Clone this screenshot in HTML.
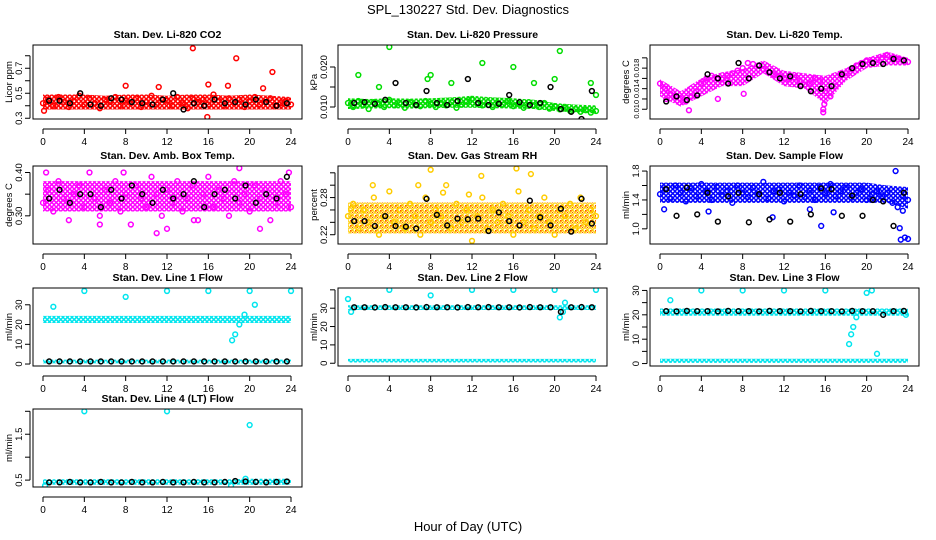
<!DOCTYPE html>
<html><head><meta charset="utf-8"><style>
html,body{margin:0;padding:0;background:#fff}
svg{display:block;font-family:"Liberation Sans",sans-serif}
</style></head><body>
<svg id="chart" width="936" height="540" viewBox="0 0 936 540" xmlns="http://www.w3.org/2000/svg">
<text x="468" y="14" font-size="13" text-anchor="middle">SPL_130227  Std. Dev. Diagnostics</text>
<text x="468" y="531" font-size="13" text-anchor="middle">Hour of Day (UTC)</text>
</svg>
<script>
const colHours=[0,0.5,1,1.5,2,2.5,3,3.5,4,4.5,5,5.5,6,6.5,7,7.5,8,8.5,9,9.5,10,10.5,11,11.5,12,12.5,13,13.5,14,14.5,15,15.5,16,16.5,17,17.5,18,18.5,19,19.5,20,20.5,21,21.5,22,22.5,23,23.5,24];
const blkHours=[0.6,1.6,2.6,3.6,4.6,5.6,6.6,7.6,8.6,9.6,10.6,11.6,12.6,13.6,14.6,15.6,16.6,17.6,18.6,19.6,20.6,21.6,22.6,23.6];
const bandHours=[0,2,4,6,8,10,12,14,16,18,20,22,24];
const xTicks=[0,4,8,12,16,20,24];

const co2Col=[0.42,0.45,0.40,0.47,0.43,0.39,0.44,0.48,0.41,0.46,0.42,0.38,0.45,0.43,0.47,0.40,0.44,0.42,0.46,0.39,0.43,0.48,0.41,0.45,0.44,0.40,0.47,0.42,0.38,0.46,0.43,0.45,0.41,0.49,0.44,0.40,0.46,0.42,0.45,0.39,0.44,0.47,0.41,0.43,0.46,0.40,0.42,0.44,0.41];
const co2Blk=[0.44,0.44,0.42,0.50,0.41,0.40,0.46,0.45,0.43,0.42,0.41,0.45,0.50,0.37,0.42,0.40,0.45,0.42,0.43,0.41,0.45,0.43,0.40,0.42];
const co2Lo=[0.37,0.37,0.37,0.37,0.37,0.37,0.37,0.37,0.37,0.37,0.37,0.37,0.37];
const co2Hi=[0.49,0.49,0.49,0.48,0.49,0.49,0.48,0.49,0.49,0.48,0.49,0.48,0.47];
const co2OutX=[14.5,18.7,22.2,15.9,16,8,17.9,21.3,0.1,11.2];
const co2OutY=[0.86,0.78,0.67,0.31,0.57,0.56,0.56,0.54,0.36,0.55];

const presCol=[0.0110,0.0100,0.0115,0.0105,0.0095,0.0112,0.0108,0.0100,0.0118,0.0104,0.0110,0.0098,0.0112,0.0106,0.0102,0.0115,0.0108,0.0100,0.0110,0.0104,0.0112,0.0098,0.0106,0.0114,0.0120,0.0108,0.0104,0.0112,0.0100,0.0110,0.0106,0.0115,0.0102,0.0108,0.0098,0.0112,0.0104,0.0100,0.0110,0.0096,0.0102,0.0094,0.0098,0.0090,0.0095,0.0088,0.0092,0.0086,0.0090];
const presBlk=[0.0110,0.0112,0.0108,0.0118,0.0160,0.0110,0.0105,0.0140,0.0110,0.0105,0.0115,0.0170,0.0110,0.0105,0.0108,0.0130,0.0112,0.0105,0.0110,0.0150,0.0095,0.0088,0.0070,0.0140];
const presLo=[0.0095,0.0096,0.0097,0.0096,0.0097,0.0098,0.0098,0.0097,0.0096,0.0095,0.0090,0.0086,0.0084];
const presHi=[0.0122,0.0120,0.0122,0.0121,0.0122,0.0124,0.0128,0.0124,0.0122,0.0118,0.0110,0.0106,0.0104];
const presOutX=[1,3,4,7.7,8,10,12,13,16,18,20,20.5,23.5,24];
const presOutY=[0.018,0.015,0.025,0.017,0.018,0.016,0.027,0.021,0.020,0.016,0.017,0.024,0.016,0.013];

const tempCol=[0.0150,0.0140,0.0130,0.0125,0.0120,0.0115,0.0125,0.0135,0.0150,0.0160,0.0165,0.0160,0.0158,0.0165,0.0170,0.0175,0.0180,0.0190,0.0188,0.0185,0.0178,0.0172,0.0168,0.0165,0.0160,0.0158,0.0162,0.0155,0.0148,0.0150,0.0160,0.0155,0.0135,0.0125,0.0145,0.0165,0.0170,0.0178,0.0185,0.0190,0.0195,0.0192,0.0196,0.0200,0.0205,0.0200,0.0198,0.0196,0.0192];
const tempBlk=[0.0115,0.0125,0.0118,0.0127,0.0168,0.0160,0.0150,0.0190,0.0160,0.0185,0.0172,0.0160,0.0164,0.0145,0.0135,0.0140,0.0145,0.0168,0.0180,0.0188,0.0190,0.0188,0.0198,0.0195];
const tempLo=[0.0125,0.0105,0.0125,0.0145,0.0145,0.0170,0.0145,0.0140,0.0110,0.0155,0.0180,0.0185,0.0185];
const tempHi=[0.0158,0.0135,0.0160,0.0172,0.0178,0.0195,0.0175,0.0170,0.0165,0.0180,0.0200,0.0212,0.0200];
const tempOutX=[15.8,15.8,15.9,2.8,0.6,5.6,8.1];
const tempOutY=[0.0100,0.0094,0.0110,0.0098,0.0120,0.0120,0.0130];

const ambCol=[0.33,0.36,0.31,0.38,0.34,0.29,0.35,0.37,0.32,0.40,0.34,0.30,0.36,0.33,0.38,0.31,0.35,0.28,0.37,0.34,0.32,0.39,0.35,0.30,0.36,0.33,0.38,0.31,0.34,0.37,0.29,0.35,0.39,0.32,0.36,0.34,0.30,0.38,0.33,0.35,0.31,0.37,0.34,0.36,0.29,0.33,0.38,0.35,0.32];
const ambBlk=[0.34,0.36,0.33,0.35,0.35,0.32,0.36,0.34,0.37,0.35,0.33,0.36,0.34,0.35,0.38,0.32,0.35,0.36,0.34,0.37,0.33,0.35,0.34,0.39];
const ambLo=[0.31,0.31,0.31,0.31,0.31,0.31,0.31,0.31,0.31,0.31,0.31,0.31,0.31];
const ambHi=[0.38,0.38,0.38,0.38,0.38,0.38,0.38,0.38,0.38,0.38,0.38,0.38,0.38];
const ambOutX=[0.3,7.8,12,19,23.8,11,5.5,14.6,21];
const ambOutY=[0.40,0.40,0.27,0.41,0.40,0.26,0.28,0.29,0.27];

const rhCol=[0.25,0.27,0.23,0.26,0.24,0.28,0.22,0.25,0.29,0.24,0.26,0.23,0.27,0.25,0.22,0.28,0.24,0.26,0.25,0.30,0.23,0.27,0.24,0.26,0.21,0.25,0.28,0.23,0.26,0.24,0.27,0.25,0.22,0.29,0.24,0.26,0.23,0.25,0.28,0.24,0.22,0.26,0.25,0.27,0.23,0.28,0.24,0.26,0.25];
const rhBlk=[0.242,0.242,0.234,0.250,0.234,0.233,0.230,0.278,0.252,0.235,0.246,0.245,0.246,0.226,0.256,0.242,0.235,0.275,0.248,0.235,0.262,0.225,0.278,0.238];
const rhLo=[0.222,0.222,0.222,0.222,0.222,0.222,0.222,0.222,0.222,0.222,0.222,0.222,0.222];
const rhHi=[0.272,0.272,0.272,0.272,0.272,0.272,0.272,0.272,0.272,0.272,0.272,0.272,0.272];
const rhOutX=[8,9.2,12.9,16.3,17.7,6.8,2.4,0.3,11.7];
const rhOutY=[0.325,0.288,0.315,0.327,0.318,0.300,0.300,0.262,0.285];

const flowCol=[1.48,1.55,1.42,1.60,1.50,1.38,1.56,1.45,1.62,1.52,1.40,1.58,1.47,1.53,1.36,1.60,1.50,1.44,1.57,1.48,1.65,1.42,1.52,1.55,1.38,1.50,1.46,1.60,1.44,1.53,1.40,1.58,1.49,1.62,1.45,1.52,1.57,1.43,1.50,1.55,1.40,1.48,1.52,1.45,1.50,1.36,1.30,1.45,1.40];
const flowBlk=[1.55,1.18,1.57,1.20,1.50,1.10,1.45,1.50,1.09,1.48,1.13,1.50,1.10,1.48,1.20,1.56,1.55,1.18,1.46,1.18,1.40,1.38,1.04,1.50];
const flowLo=[1.36,1.36,1.36,1.36,1.36,1.36,1.36,1.36,1.36,1.36,1.36,1.36,1.28];
const flowHi=[1.64,1.64,1.64,1.64,1.64,1.64,1.64,1.64,1.64,1.64,1.64,1.60,1.58];
const flowOutX=[0.4,4.7,10.9,15.6,16.8,22.8,23.2,23.3,23.7,24,23.5,14.5];
const flowOutY=[1.27,1.24,1.16,1.04,1.23,1.80,1.01,0.85,0.88,0.86,1.25,1.27];

const l1Blk=[1.3,1.3,1.3,1.3,1.3,1.3,1.3,1.3,1.3,1.3,1.3,1.3,1.3,1.3,1.3,1.3,1.3,1.3,1.3,1.3,1.3,1.3,1.3,1.3];
const l1Lo=[20.8,20.8,20.8,20.8,20.8,20.8,20.8,20.8,20.8,20.8,20.8,20.8,20.8];
const l1Hi=[24.4,24.4,24.4,24.4,24.4,24.4,24.4,24.4,24.4,24.4,24.4,24.4,24.4];
const l1Lo2=[0.3,0.3,0.3,0.3,0.3,0.3,0.3,0.3,0.3,0.3,0.3,0.3,0.3];
const l1Hi2=[2.2,2.2,2.2,2.2,2.2,2.2,2.2,2.2,2.2,2.2,2.2,2.2,2.2];
const l1OutX=[1,4,8,12,16,18.3,18.6,19,19.5,20,20.5,24];
const l1OutY=[29,37,34,37,37,12,15,20,25,37,30,37];

const l2Blk=[30.5,30.5,30.4,30.6,30.5,30.5,30.4,30.6,30.5,30.5,30.4,30.6,30.5,30.6,30.5,30.5,30.4,30.6,30.5,30.5,28,30.5,30.6,30.5];
const l2Lo=[29,29,29,29,29,29,29,29,29,29,29,29,29];
const l2Hi=[31.6,31.6,31.6,31.6,31.6,31.6,31.6,31.6,31.6,31.6,31.6,31.6,31.6];
const l2Lo2=[0.4,0.4,0.4,0.4,0.4,0.4,0.4,0.4,0.4,0.4,0.4,0.4,0.4];
const l2Hi2=[2.4,2.4,2.4,2.4,2.4,2.4,2.4,2.4,2.4,2.4,2.4,2.4,2.4];
const l2OutX=[0,4,8,12,16,20,20.5,21,24,20.8,0.3];
const l2OutY=[35,40,37,40,40,40,25,33,40,28,28];

const l3Blk=[21.5,21.4,21.6,21.5,21.5,21.4,21.6,21.5,21.5,21.4,21.6,21.5,21.5,21.4,21.6,21.5,21.5,21.4,21.6,21.5,21.5,20,21.5,21.6];
const l3Lo=[19.6,19.6,19.6,19.6,19.6,19.6,19.6,19.6,19.6,19.6,19.6,19.6,19.6];
const l3Hi=[22.6,22.6,22.6,22.6,22.6,22.6,22.6,22.6,22.6,22.6,22.6,22.6,22.6];
const l3Lo2=[0.3,0.3,0.3,0.3,0.3,0.3,0.3,0.3,0.3,0.3,0.3,0.3,0.3];
const l3Hi2=[2.0,2.0,2.0,2.0,2.0,2.0,2.0,2.0,2.0,2.0,2.0,2.0,2.0];
const l3OutX=[1,4,8,12,16,18.3,18.5,18.7,19,20,20.5,21,23.8];
const l3OutY=[26,30,30,30,30,8,12,15,19,29,30,4,20];

const l4Blk=[0.45,0.45,0.46,0.45,0.45,0.46,0.45,0.45,0.46,0.45,0.45,0.46,0.45,0.45,0.46,0.45,0.45,0.46,0.48,0.47,0.46,0.45,0.46,0.47];
const l4Lo=[0.40,0.40,0.40,0.40,0.40,0.40,0.40,0.40,0.40,0.40,0.40,0.40,0.40];
const l4Hi=[0.52,0.52,0.52,0.52,0.52,0.52,0.52,0.52,0.52,0.52,0.53,0.53,0.53];
const l4OutX=[4,12,20,18.2,19.6,0.2];
const l4OutY=[2.0,2.0,1.7,0.38,0.53,0.38];

const panels=[
 {name:'co2',title:'Stan. Dev. Li-820 CO2',ylab:'Licor ppm',r:0,c:0,dom:[0.294,0.886],ticks:[0.3,0.4,0.5,0.6,0.7,0.8],labels:['0.3','','0.5','','0.7',''],color:'#ff0000',col:co2Col,blk:co2Blk,lo:co2Lo,hi:co2Hi,ox:co2OutX,oy:co2OutY},
 {name:'pressure',title:'Stan. Dev. Li-820 Pressure',ylab:'kPa',r:0,c:1,dom:[0.007,0.0255],ticks:[0.010,0.015,0.020],labels:['0.010','','0.020'],color:'#00dd00',col:presCol,blk:presBlk,lo:presLo,hi:presHi,ox:presOutX,oy:presOutY},
 {name:'temp',title:'Stan. Dev. Li-820 Temp.',ylab:'degrees C',r:0,c:2,dom:[0.0081,0.0225],ticks:[0.010,0.012,0.014,0.016,0.018,0.020],labels:['0.010','','0.014','','0.018',''],fs:7.5,color:'#ff00ff',col:tempCol,blk:tempBlk,lo:tempLo,hi:tempHi,ox:tempOutX,oy:tempOutY},
 {name:'amb-box-temp',title:'Stan. Dev. Amb. Box Temp.',ylab:'degrees C',r:1,c:0,dom:[0.235,0.415],ticks:[0.30,0.35,0.40],labels:['0.30','','0.40'],color:'#ff00ff',col:ambCol,blk:ambBlk,lo:ambLo,hi:ambHi,ox:ambOutX,oy:ambOutY},
 {name:'gas-stream-rh',title:'Stan. Dev. Gas Stream RH',ylab:'percent',r:1,c:1,dom:[0.205,0.331],ticks:[0.22,0.24,0.26,0.28,0.30,0.32],labels:['0.22','','','0.28','',''],color:'#ff9900',col:rhCol,blk:rhBlk,lo:rhLo,hi:rhHi,ox:rhOutX,oy:rhOutY},
 {name:'sample-flow',title:'Stan. Dev. Sample Flow',ylab:'ml/min',r:1,c:2,dom:[0.79,1.87],ticks:[1.0,1.2,1.4,1.6,1.8],labels:['1.0','','1.4','','1.8'],color:'#0000ff',col:flowCol,blk:flowBlk,lo:flowLo,hi:flowHi,ox:flowOutX,oy:flowOutY},
 {name:'line1-flow',title:'Stan. Dev. Line 1 Flow',ylab:'ml/min',r:2,c:0,dom:[-1,38.5],ticks:[0,10,20,30],labels:['0','10','20','30'],color:'#00e5ee',col:null,blk:l1Blk,lo:l1Lo,hi:l1Hi,lo2:l1Lo2,hi2:l1Hi2,ox:l1OutX,oy:l1OutY},
 {name:'line2-flow',title:'Stan. Dev. Line 2 Flow',ylab:'ml/min',r:2,c:1,dom:[-1.5,41],ticks:[0,10,20,30,40],labels:['0','10','20','30',''],color:'#00e5ee',col:null,blk:l2Blk,lo:l2Lo,hi:l2Hi,lo2:l2Lo2,hi2:l2Hi2,ox:l2OutX,oy:l2OutY},
 {name:'line3-flow',title:'Stan. Dev. Line 3 Flow',ylab:'ml/min',r:2,c:2,dom:[-1,31],ticks:[0,5,10,15,20,25,30],labels:['0','','10','','20','','30'],color:'#00e5ee',col:null,blk:l3Blk,lo:l3Lo,hi:l3Hi,lo2:l3Lo2,hi2:l3Hi2,ox:l3OutX,oy:l3OutY},
 {name:'line4-flow',title:'Stan. Dev. Line 4 (LT) Flow',ylab:'ml/min',r:3,c:0,dom:[0.35,2.05],ticks:[0.5,1.0,1.5,2.0],labels:['0.5','','1.5',''],color:'#00e5ee',col:null,blk:l4Blk,lo:l4Lo,hi:l4Hi,ox:l4OutX,oy:l4OutY}
];

const NS='http://www.w3.org/2000/svg';
const svg=document.getElementById('chart');
const colL=[33,338,650], rowT=[45,166,288,409], rowB=[119,244,366,487];
function mk(tag,attrs,parent){const e=document.createElementNS(NS,tag);for(const k in attrs)e.setAttribute(k,attrs[k]);parent.appendChild(e);return e;}
const defs=mk('defs',{},svg);
const rp=mk('pattern',{id:'rhpat',width:5,height:5,patternUnits:'userSpaceOnUse'},defs);
mk('circle',{cx:2.5,cy:2.5,r:1.8,fill:'none',stroke:'#ffcc00','stroke-width':'1.3'},rp);
mk('rect',{x:0,y:0,width:1.5,height:1.5,fill:'#ff5500'},rp);
mk('rect',{x:2,y:2,width:1,height:1,fill:'#ff5500'},rp);

panels.forEach(p=>{
  const L=colL[p.c], R=L+269, T=rowT[p.r], B=rowB[p.r];
  const x0=L+10, x1=R-11;
  const xs=h=>x0+(h/24)*(x1-x0);
  const ys=v=>B-(v-p.dom[0])/(p.dom[1]-p.dom[0])*(B-T);
  const pid='pat-'+p.name;
  const pt=mk('pattern',{id:pid,width:4.5,height:4.5,patternUnits:'userSpaceOnUse'},defs);
  mk('circle',{cx:2.25,cy:2.25,r:1.7,fill:'none',stroke:p.color,'stroke-width':'1.4'},pt);
  const g=mk('g',{},svg);
  
  
  const t=mk('text',{x:(L+R)/2,y:T-7,'font-size':'10.5','font-weight':'bold','text-anchor':'middle'},g);
  t.textContent=p.title;
  
  
  const inner=mk('g',{},g);
  
  
  const cp='clip-'+p.name;
  const cl=mk('clipPath',{id:cp},g); mk('rect',{x:L,y:T,width:R-L,height:B-T},cl);
  inner.setAttribute('clip-path','url(#'+cp+')');
  const fillRef=p.name==='gas-stream-rh'?'url(#rhpat)':'url(#'+pid+')';
  const band=(lo,hi)=>{
    let d='M'+bandHours.map((h,i)=>xs(h)+','+ys(hi[i])).join(' L');
    d+=' L'+bandHours.slice().reverse().map((h,i)=>xs(h)+','+ys(lo[lo.length-1-i])).join(' L')+' Z';
    const b=mk('path',{d:d,fill:fillRef,stroke:'none'},inner);
    
    
  };
  band(p.lo,p.hi);
  if(p.lo2)band(p.lo2,p.hi2);
  const ring=(x,y,c,nm)=>{const e=mk('circle',{cx:x,cy:y,r:2.4,fill:'none',stroke:c,'stroke-width':'1.5'},inner);
    
    };
  const ringC=p.name==='gas-stream-rh'?'#ffcc00':p.color;
  if(p.col)p.col.forEach((v,i)=>ring(xs(colHours[i]),ys(v),ringC,'point'));
  p.ox.forEach((x,i)=>ring(xs(x),ys(p.oy[i]),ringC,'outlier-point'));
  p.blk.forEach((v,i)=>ring(xs(blkHours[i]),ys(v),'#000','hourly-point'));
  const box=mk('rect',{x:L,y:T,width:R-L,height:B-T,fill:'none',stroke:'#000','stroke-width':'1'},g);
  
  
  const ax=mk('g',{},g);
  
  
  const ay0=B+10;
  mk('line',{x1:xs(0),y1:ay0,x2:xs(24),y2:ay0,stroke:'#000'},ax);
  xTicks.forEach(h=>{mk('line',{x1:xs(h),y1:ay0,x2:xs(h),y2:ay0+5,stroke:'#000'},ax);
    const tt=mk('text',{x:xs(h),y:ay0+16,'font-size':'10','text-anchor':'middle'},ax);tt.textContent=h;
    
    });
  const yg=mk('g',{},g);
  
  
  const axX=L-3;
  const vis=p.ticks.filter(v=>ys(v)>=T-1&&ys(v)<=B+1);
  mk('line',{x1:axX,y1:ys(vis[0]),x2:axX,y2:ys(vis[vis.length-1]),stroke:'#000'},yg);
  const fs=p.fs||9.5;
  p.ticks.forEach((v,i)=>{const y=ys(v);if(y<T-1||y>B+1)return;
    mk('line',{x1:axX-5,y1:y,x2:axX,y2:y,stroke:'#000'},yg);
    if(p.labels[i]){const tt=mk('text',{x:axX-8,y:y,'font-size':fs,'text-anchor':'middle',transform:'rotate(-90 '+(axX-8)+' '+y+')'},yg);tt.textContent=p.labels[i];
      
      }
  });
  const yl=mk('text',{x:L-21,y:(T+B)/2,'font-size':'9.5','text-anchor':'middle',transform:'rotate(-90 '+(L-21)+' '+((T+B)/2)+')'},g);
  yl.textContent=p.ylab;
  
  
});
</script>
</body></html>
